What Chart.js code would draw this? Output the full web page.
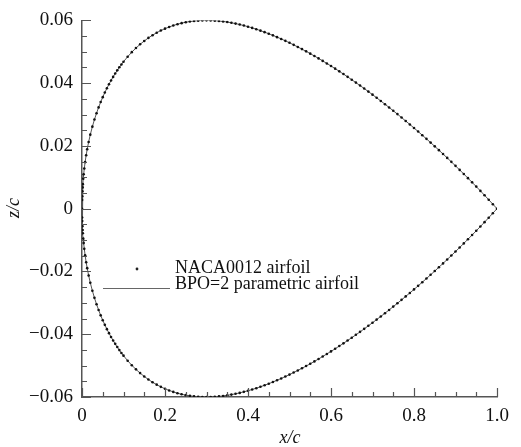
<!DOCTYPE html>
<html>
<head>
<meta charset="utf-8">
<script src="https://cdn.jsdelivr.net/npm/chart.js@4.4.1/dist/chart.umd.min.js"></script>
<style>
  html, body { margin: 0; padding: 0; background: #fff; }
  #wrap { width: 521px; height: 447px; }
</style>
</head>
<body>
<div id="wrap"><canvas id="foil" width="521" height="447"></canvas></div>
<script>
// chordwise stations x/c, leading edge to trailing edge
var xStations = [
  0, 0.00025, 0.0005, 0.001, 0.0015, 0.002, 0.003, 0.004, 0.0055, 0.0075,
  0.01, 0.0125, 0.016, 0.02, 0.025, 0.03, 0.035, 0.04, 0.045, 0.05,
  0.055, 0.06, 0.065, 0.07, 0.075, 0.08, 0.085, 0.09, 0.095,
  0.10, 0.11, 0.12, 0.13, 0.14, 0.15, 0.16, 0.17, 0.18, 0.19,
  0.20, 0.21, 0.22, 0.23, 0.24, 0.25, 0.26, 0.27, 0.28, 0.29,
  0.30, 0.31, 0.32, 0.33, 0.34, 0.35, 0.36, 0.37, 0.38, 0.39,
  0.40, 0.41, 0.42, 0.43, 0.44, 0.45, 0.46, 0.47, 0.48, 0.49,
  0.50, 0.51, 0.52, 0.53, 0.54, 0.55, 0.56, 0.57, 0.58, 0.59,
  0.60, 0.61, 0.62, 0.63, 0.64, 0.65, 0.66, 0.67, 0.68, 0.69,
  0.70, 0.71, 0.72, 0.73, 0.74, 0.75, 0.76, 0.77, 0.78, 0.79,
  0.80, 0.81, 0.82, 0.83, 0.84, 0.85, 0.86, 0.87, 0.88, 0.89,
  0.90, 0.91, 0.92, 0.93, 0.94, 0.95, 0.96, 0.97, 0.98, 0.99,
  1.0];

// upper surface z/c
var zUpper = [
  0, 0.00280, 0.00395, 0.00556, 0.00679, 0.00782, 0.00953, 0.01096, 0.01279, 0.01485,
  0.01704, 0.01894, 0.02127, 0.02360, 0.02615, 0.02840, 0.03043, 0.03228, 0.03398, 0.03555,
  0.03701, 0.03838, 0.03966, 0.04086, 0.04200, 0.04307, 0.04409, 0.04505, 0.04596,
  0.04683, 0.04843, 0.04988, 0.05119, 0.05238, 0.05345, 0.05442, 0.05529, 0.05607, 0.05676,
  0.05737, 0.05791, 0.05838, 0.05879, 0.05913, 0.05941, 0.05963, 0.05980, 0.05992, 0.05999,
  0.06001, 0.05998, 0.05992, 0.05981, 0.05966, 0.05947, 0.05924, 0.05898, 0.05869, 0.05836,
  0.05800, 0.05761, 0.05719, 0.05674, 0.05626, 0.05576, 0.05523, 0.05467, 0.05409, 0.05349,
  0.05286, 0.05221, 0.05154, 0.05085, 0.05014, 0.04941, 0.04866, 0.04789, 0.04710, 0.04629,
  0.04547, 0.04463, 0.04377, 0.04290, 0.04201, 0.04110, 0.04018, 0.03924, 0.03829, 0.03732,
  0.03634, 0.03534, 0.03433, 0.03330, 0.03226, 0.03120, 0.03014, 0.02905, 0.02795, 0.02684,
  0.02572, 0.02458, 0.02342, 0.02225, 0.02107, 0.01987, 0.01866, 0.01743, 0.01618, 0.01493,
  0.01365, 0.01236, 0.01106, 0.00973, 0.00839, 0.00704, 0.00567, 0.00428, 0.00287, 0.00144,
  0];

// lower surface z/c
var zLower = [
  0, -0.00280, -0.00395, -0.00556, -0.00679, -0.00782, -0.00953, -0.01096, -0.01279, -0.01485,
  -0.01704, -0.01894, -0.02127, -0.02360, -0.02615, -0.02840, -0.03043, -0.03228, -0.03398, -0.03555,
  -0.03701, -0.03838, -0.03966, -0.04086, -0.04200, -0.04307, -0.04409, -0.04505, -0.04596,
  -0.04683, -0.04843, -0.04988, -0.05119, -0.05238, -0.05345, -0.05442, -0.05529, -0.05607, -0.05676,
  -0.05737, -0.05791, -0.05838, -0.05879, -0.05913, -0.05941, -0.05963, -0.05980, -0.05992, -0.05999,
  -0.06001, -0.05998, -0.05992, -0.05981, -0.05966, -0.05947, -0.05924, -0.05898, -0.05869, -0.05836,
  -0.05800, -0.05761, -0.05719, -0.05674, -0.05626, -0.05576, -0.05523, -0.05467, -0.05409, -0.05349,
  -0.05286, -0.05221, -0.05154, -0.05085, -0.05014, -0.04941, -0.04866, -0.04789, -0.04710, -0.04629,
  -0.04547, -0.04463, -0.04377, -0.04290, -0.04201, -0.04110, -0.04018, -0.03924, -0.03829, -0.03732,
  -0.03634, -0.03534, -0.03433, -0.03330, -0.03226, -0.03120, -0.03014, -0.02905, -0.02795, -0.02684,
  -0.02572, -0.02458, -0.02342, -0.02225, -0.02107, -0.01987, -0.01866, -0.01743, -0.01618, -0.01493,
  -0.01365, -0.01236, -0.01106, -0.00973, -0.00839, -0.00704, -0.00567, -0.00428, -0.00287, -0.00144,
  0];

var xTicks = [0, 0.2, 0.4, 0.6, 0.8, 1.0];
var zTicks = [-0.06, -0.04, -0.02, 0, 0.02, 0.04, 0.06];
var seriesNames = ['NACA0012 airfoil', 'BPO=2 parametric airfoil'];

var SERIF = '"Liberation Serif", "Times New Roman", serif';

// closed contour: trailing edge -> upper -> leading edge -> lower -> trailing edge
var contour = [];
var i;
for (i = xStations.length - 1; i >= 0; i--) contour.push({x: xStations[i], y: zUpper[i]});
for (i = 1; i < xStations.length; i++) contour.push({x: xStations[i], y: zLower[i]});

var dots = [];
for (i = 0; i < xStations.length; i++) dots.push({x: xStations[i], y: zUpper[i]});
for (i = 1; i < xStations.length - 1; i++) dots.push({x: xStations[i], y: zLower[i]});

function fmtX(v) {
    if (Math.abs(v) < 1e-9) return '0';
    return v.toFixed(1);
}
function fmtZ(v) {
    if (Math.abs(v) < 1e-9) return '0';
    return (v < 0 ? '\u2212' : '') + Math.abs(v).toFixed(2);
}

// inward tick marks, axis titles and the in-plot legend
var decorations = {
    id: 'decorations',
    afterDraw: function (chart) {
        var ctx = chart.ctx;
        var xs = chart.scales.x, ys = chart.scales.y;
        var area = chart.chartArea;
        var k, v, px;
        ctx.save();
        ctx.strokeStyle = '#555';
        ctx.lineWidth = 1.2;
        ctx.beginPath();
        for (k = 0; k <= 20; k++) {
            v = k * 0.05;
            px = Math.round(xs.getPixelForValue(v)) + 0.5;
            var len = (k % 4 === 0) ? 9 : 5;
            ctx.moveTo(px, area.bottom);
            ctx.lineTo(px, area.bottom - len);
        }
        for (k = 0; k <= 24; k++) {
            v = -0.06 + k * 0.005;
            px = Math.round(ys.getPixelForValue(v)) + 0.5;
            var lenY = (k % 4 === 0) ? 9 : 5;
            ctx.moveTo(area.left, px);
            ctx.lineTo(area.left + lenY, px);
        }
        ctx.stroke();

        // axis titles
        ctx.fillStyle = '#111';
        ctx.font = 'italic 18px ' + SERIF;
        ctx.textAlign = 'center';
        ctx.textBaseline = 'middle';
        ctx.fillText('x/c', 290, 438);
        ctx.save();
        ctx.translate(14, 208);
        ctx.rotate(-Math.PI / 2);
        ctx.fillText('z/c', 0, 0);
        ctx.restore();

        // legend
        ctx.font = '18px ' + SERIF;
        ctx.textAlign = 'left';
        ctx.fillText(seriesNames[0], 175, 268);
        ctx.fillText(seriesNames[1], 175, 284);
        ctx.fillStyle = '#222';
        ctx.beginPath();
        ctx.arc(137, 269, 1.4, 0, Math.PI * 2);
        ctx.fill();
        ctx.strokeStyle = '#666';
        ctx.lineWidth = 1;
        ctx.beginPath();
        ctx.moveTo(103, 288.5);
        ctx.lineTo(170, 288.5);
        ctx.stroke();
        ctx.restore();
    }
};

var ctx = document.getElementById('foil').getContext('2d');
var chart = new Chart(ctx, {
    type: 'scatter',
    data: {
        datasets: [{
            label: seriesNames[1],
            data: contour,
            showLine: true,
            borderColor: '#555',
            borderWidth: 1,
            pointRadius: 0,
            tension: 0,
            order: 2
        }, {
            label: seriesNames[0],
            data: dots,
            showLine: false,
            pointRadius: 1.3,
            pointBorderWidth: 0,
            pointBackgroundColor: '#111',
            order: 1
        }]
    },
    options: {
        responsive: false,
        animation: false,
        layout: { padding: { top: 20, right: 24, left: 0, bottom: 0 } },
        plugins: {
            legend: { display: false },
            tooltip: { enabled: false }
        },
        scales: {
            x: {
                type: 'linear',
                min: 0,
                max: 1,
                afterBuildTicks: function (scale) {
                    scale.ticks = xTicks.map(function (v) { return {value: v}; });
                },
                afterFit: function (scale) { scale.height = 50; },
                grid: { display: false, drawTicks: false },
                border: { display: true, color: '#555', width: 1.5 },
                ticks: {
                    padding: 8,
                    color: '#111',
                    font: { family: SERIF, size: 19 },
                    maxRotation: 0,
                    autoSkip: false,
                    callback: function (v) { return fmtX(v); }
                }
            },
            y: {
                type: 'linear',
                min: -0.06,
                max: 0.06,
                afterBuildTicks: function (scale) {
                    scale.ticks = zTicks.map(function (v) { return {value: v}; });
                },
                afterFit: function (scale) { scale.width = 82; },
                grid: { display: false, drawTicks: false },
                border: { display: true, color: '#555', width: 1.5 },
                ticks: {
                    padding: 9,
                    color: '#111',
                    font: { family: SERIF, size: 19 },
                    autoSkip: false,
                    callback: function (v) { return fmtZ(v); }
                }
            }
        }
    },
    plugins: [decorations]
});
</script>
</body>
</html>
